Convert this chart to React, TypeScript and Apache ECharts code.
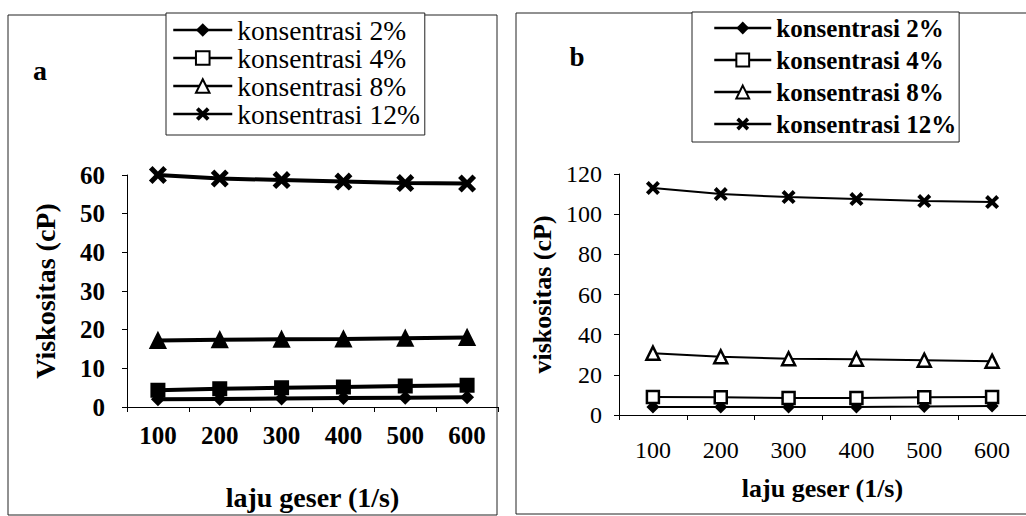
import React, { useEffect, useRef } from "react";
import * as echarts from "echarts";

const categories = ["100", "200", "300", "400", "500", "600"];
const seriesNames = ["konsentrasi 2%", "konsentrasi 4%", "konsentrasi 8%", "konsentrasi 12%"];

// Panel a (Viskositas, cP)
const a2 = [2.0, 2.1, 2.2, 2.3, 2.4, 2.5];
const a4 = [4.3, 4.7, 5.0, 5.2, 5.4, 5.6];
const a8 = [17.2, 17.4, 17.5, 17.6, 17.8, 18.0];
const a12 = [60, 59.1, 58.7, 58.3, 57.9, 57.8];

// Panel b (viskositas, cP)
const b2 = [4, 4, 4, 4, 4.2, 4.5];
const b4 = [9, 8.8, 8.5, 8.5, 8.8, 9];
const b8 = [30.8, 29, 28, 27.8, 27.3, 26.8];
const b12 = [113, 110, 108.5, 107.5, 106.5, 106];

const FONT = "Liberation Serif";
const XMARK = "path://M0,2 L2,0 L5,3 L8,0 L10,2 L7,5 L10,8 L8,10 L5,7 L2,10 L0,8 L3,5 Z";
const symbols = ["diamond", "rect", "triangle", XMARK];

type Cfg = {
  data: number[][];
  max: number;
  interval: number;
  grid: { left: number; top: number; width: number; height: number };
  lineWidth: number;
  filled: boolean;
  symbolSizes: number[];
  labelFont: { size: number; weight: string };
  yName: string;
  yNameSize: number;
  yNameGap: number;
  yLabelMargin: number;
  xName: string;
  xNameSize: number;
  xNameGap: number;
  xLabelMargin: number;
  legend: { left: number; top: number; padding: number[]; lineHeight: number; fontSize: number; weight: string; itemWidth: number; itemHeight: number };
  panel: { x: number; y: number; w: number; h: number };
  letter: { text: string; x: number; y: number; size: number };
};

function buildOption(c: Cfg): any {
  const open = { color: "#fff", borderColor: "#000", borderWidth: 2 };
  const solid = { color: "#000", borderWidth: 0 };
  return {
    animation: false,
    backgroundColor: "#fff",
    textStyle: { fontFamily: FONT, color: "#000" },
    graphic: [
      {
        type: "rect",
        shape: { x: c.panel.x, y: c.panel.y, width: c.panel.w, height: c.panel.h },
        style: { fill: "none", stroke: "#222", lineWidth: 1 },
        z: -1,
      },
      {
        type: "text",
        x: c.letter.x,
        y: c.letter.y,
        style: {
          text: c.letter.text,
          fontFamily: FONT,
          fontSize: c.letter.size,
          fontWeight: "bold",
          fill: "#000",
          align: "center",
          verticalAlign: "middle",
        },
      },
    ],
    legend: {
      orient: "vertical",
      left: c.legend.left,
      top: c.legend.top,
      padding: c.legend.padding,
      itemGap: 0,
      itemWidth: c.legend.itemWidth,
      itemHeight: c.legend.itemHeight,
      borderColor: "#222",
      borderWidth: 1,
      backgroundColor: "#fff",
      textStyle: {
        fontFamily: FONT,
        fontSize: c.legend.fontSize,
        fontWeight: c.legend.weight,
        color: "#000",
        lineHeight: c.legend.lineHeight,
        padding: [0, 0, 0, 0],
      },
      data: seriesNames.map((n, i) => ({
        name: n,
        itemStyle: i === 1 || i === 2 ? open : solid,
        lineStyle: { color: "#000", width: 2.5 },
      })),
    },
    grid: { ...c.grid },
    xAxis: {
      type: "category",
      data: categories,
      boundaryGap: true,
      axisLine: { lineStyle: { color: "#000", width: 1 } },
      axisTick: { show: true, length: 5, lineStyle: { color: "#000" } },
      axisLabel: {
        color: "#000",
        fontFamily: FONT,
        fontSize: c.labelFont.size,
        fontWeight: c.labelFont.weight,
        margin: c.xLabelMargin,
      },
      splitLine: { show: false },
      name: c.xName,
      nameLocation: "middle",
      nameGap: c.xNameGap,
      nameTextStyle: { fontFamily: FONT, fontSize: c.xNameSize, fontWeight: "bold", color: "#000" },
    },
    yAxis: {
      type: "value",
      min: 0,
      max: c.max,
      interval: c.interval,
      axisLine: { show: true, lineStyle: { color: "#000", width: 1 } },
      axisTick: { show: true, length: 5, lineStyle: { color: "#000" } },
      axisLabel: {
        color: "#000",
        fontFamily: FONT,
        fontSize: c.labelFont.size,
        fontWeight: c.labelFont.weight,
        margin: c.yLabelMargin,
      },
      splitLine: { show: false },
      name: c.yName,
      nameLocation: "middle",
      nameGap: c.yNameGap,
      nameTextStyle: { fontFamily: FONT, fontSize: c.yNameSize, fontWeight: "bold", color: "#000" },
    },
    series: seriesNames.map((n, i) => ({
      name: n,
      type: "line",
      data: c.data[i],
      symbol: symbols[i],
      symbolSize: c.symbolSizes[i],
      showAllSymbol: true,
      lineStyle: { color: "#000", width: c.lineWidth },
      itemStyle:
        i === 1 || i === 2
          ? c.filled
            ? { color: "#000", borderColor: "#000", borderWidth: 2 }
            : { color: "#fff", borderColor: "#000", borderWidth: 2.5 }
          : { color: "#000", borderWidth: 0 },
      emphasis: { disabled: true },
      z: 2 + i,
    })),
  };
}

const cfgA: Cfg = {
  data: [a2, a4, a8, a12],
  max: 60,
  interval: 10,
  grid: { left: 127, top: 175, width: 371, height: 232 },
  lineWidth: 4,
  filled: true,
  symbolSizes: [14, 13, 15, 18],
  labelFont: { size: 25, weight: "bold" },
  yName: "Viskositas (cP)",
  yNameSize: 28,
  yNameGap: 68,
  yLabelMargin: 22,
  xName: "laju geser (1/s)",
  xNameSize: 28,
  xNameGap: 76,
  xLabelMargin: 16,
  legend: { left: 166, top: 13, padding: [3, 5, 7, 6], lineHeight: 28, fontSize: 27.5, weight: "normal", itemWidth: 59, itemHeight: 17 },
  panel: { x: 8, y: 15, w: 489, h: 500 },
  letter: { text: "a", x: 40, y: 70, size: 28 },
};

const cfgB: Cfg = {
  data: [b2, b4, b8, b12],
  max: 120,
  interval: 20,
  grid: { left: 114, top: 174, width: 414, height: 241 },
  lineWidth: 2,
  filled: false,
  symbolSizes: [13, 12, 13, 14],
  labelFont: { size: 24, weight: "normal" },
  yName: "viskositas (cP)",
  yNameSize: 26,
  yNameGap: 64,
  yLabelMargin: 17,
  xName: "laju geser (1/s)",
  xNameSize: 26,
  xNameGap: 60,
  xLabelMargin: 23,
  legend: { left: 187, top: 12, padding: [0, 3, 2, 21], lineHeight: 32, fontSize: 25, weight: "bold", itemWidth: 57, itemHeight: 16 },
  panel: { x: 11, y: 13, w: 540, h: 501 },
  letter: { text: "b", x: 72, y: 57, size: 27 },
};

function Panel({ cfg, left, width }: { cfg: Cfg; left: number; width: number }) {
  const ref = useRef<HTMLDivElement>(null);
  useEffect(() => {
    if (!ref.current) return;
    const chart = echarts.init(ref.current, undefined, { renderer: "svg" });
    chart.setOption(buildOption(cfg));
    return () => chart.dispose();
  }, [cfg]);
  return (
    <div
      ref={ref}
      style={{ position: "absolute", left, top: 0, width, height: 516, overflow: "hidden" }}
    />
  );
}

export default function App() {
  return (
    <div style={{ position: "fixed", left: 0, top: 0, width: 1026, height: 516, background: "#fff", overflow: "hidden" }}>
      <Panel cfg={cfgA} left={0} width={505} />
      <Panel cfg={cfgB} left={505} width={521} />
    </div>
  );
}
